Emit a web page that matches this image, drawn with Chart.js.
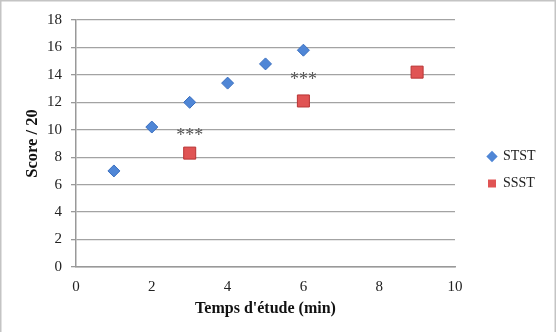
<!DOCTYPE html>
<html><head><meta charset="utf-8">
<script src="https://cdn.jsdelivr.net/npm/chart.js@4/dist/chart.umd.min.js"></script>
<style>html,body{margin:0;padding:0;background:#fff}#wrap{width:558px;height:332px}</style>
</head><body><div id="wrap"><canvas id="c" width="558" height="332"></canvas></div>
<script>
const ststX = [1, 2, 3, 4, 5, 6];
const ststY = [7.0, 10.2, 12.0, 13.4, 14.8, 15.8];
const ssstX = [3, 6, 9];
const ssstY = [8.3, 12.1, 14.2];
const starX = [3, 6];
const starY = [9.8, 13.9];
const starLabels = ['***', '***'];
const xTicks = [0, 2, 4, 6, 8, 10];
const yTicks = [0, 2, 4, 6, 8, 10, 12, 14, 16, 18];

const SERIF = '"Liberation Serif", "DejaVu Serif", serif';

const frame = {
  id: 'frame',
  beforeInit(chart) {
    const lg = chart.legend;
    if (lg) {
      const f = lg.fit;
      lg.fit = function () { f.call(this); this.width = 91; };
    }
  },
  afterLayout(chart) {
    const lg = chart.legend;
    if (lg) { lg.left += 20; lg.right += 20; lg.top -= 2; lg.bottom -= 2; }
  },
  beforeDraw(chart) {
    const ctx = chart.ctx;
    ctx.save();
    ctx.strokeStyle = '#c4c4c4';
    ctx.lineWidth = 1.5;
    ctx.beginPath();
    ctx.moveTo(0.75, 332); ctx.lineTo(0.75, 0.75); ctx.lineTo(555.25, 0.75); ctx.lineTo(555.25, 332);
    ctx.stroke();
    ctx.restore();
  },
  afterDatasetsDraw(chart) {
    const ctx = chart.ctx, xs = chart.scales.x, ys = chart.scales.y;
    ctx.save();
    ctx.fillStyle = '#555';
    ctx.font = '18px ' + SERIF;
    ctx.textAlign = 'center';
    ctx.textBaseline = 'middle';
    starX.forEach((v, i) => ctx.fillText(starLabels[i], xs.getPixelForValue(v), ys.getPixelForValue(starY[i]) + 4));
    ctx.restore();
  }
};

new Chart(document.getElementById('c'), {
  type: 'scatter',
  data: {
    datasets: [
      { label: 'STST', data: ststX.map((x, i) => ({x, y: ststY[i]})),
        pointStyle: 'rectRot', pointRadius: 6, pointHoverRadius: 6,
        backgroundColor: '#4f86d6', borderColor: '#3a6fbf', borderWidth: 1 },
      { label: 'SSST', data: ssstX.map((x, i) => ({x, y: ssstY[i]})),
        pointStyle: 'rect', pointRadius: 8.5, pointHoverRadius: 8.5,
        backgroundColor: '#e05454', borderColor: '#b83434', borderWidth: 1 }
    ]
  },
  options: {
    responsive: false,
    animation: false,
    layout: { padding: { left: 0, right: 12, top: 20, bottom: 8 } },
    plugins: {
      legend: {
        position: 'right',
        labels: {
          usePointStyle: true, boxWidth: 8, boxHeight: 8, padding: 13,
          color: '#222', font: { family: SERIF, size: 14 },
          generateLabels(chart) {
            const base = Chart.defaults.plugins.legend.labels.generateLabels(chart);
            base.forEach(l => { l.lineWidth = 0; });
            return base;
          }
        }
      },
      tooltip: { enabled: false }
    },
    scales: {
      x: {
        type: 'linear', min: 0, max: 10,
        afterBuildTicks(s) { s.ticks = xTicks.map(v => ({value: v})); },
        afterFit(s) { s.height = 57; },
        grid: { display: false, drawOnChartArea: false, drawTicks: true, tickLength: 5, tickColor: '#999' },
        border: { display: true, color: '#999', width: 1.5 },
        ticks: { color: '#222', font: { family: SERIF, size: 15 }, padding: 6 },
        title: { display: true, text: "Temps d'étude (min)", color: '#111', font: { family: SERIF, size: 16, weight: 'bold' }, padding: { top: 4, bottom: 6 } }
      },
      y: {
        type: 'linear', min: 0, max: 18,
        afterBuildTicks(s) { s.ticks = yTicks.map(v => ({value: v})); },
        afterFit(s) { s.width = 76; },
        grid: { color: '#a3a3a3', lineWidth: 1.3, drawTicks: true, tickLength: 5, tickColor: '#999' },
        border: { display: true, color: '#999', width: 1.5 },
        ticks: { color: '#222', font: { family: SERIF, size: 15 }, padding: 9 },
        title: { display: true, text: 'Score / 20', color: '#111', font: { family: SERIF, size: 16.5, weight: 'bold' }, padding: { top: 23, bottom: 4 } }
      }
    }
  },
  plugins: [frame]
});
</script></body></html>
